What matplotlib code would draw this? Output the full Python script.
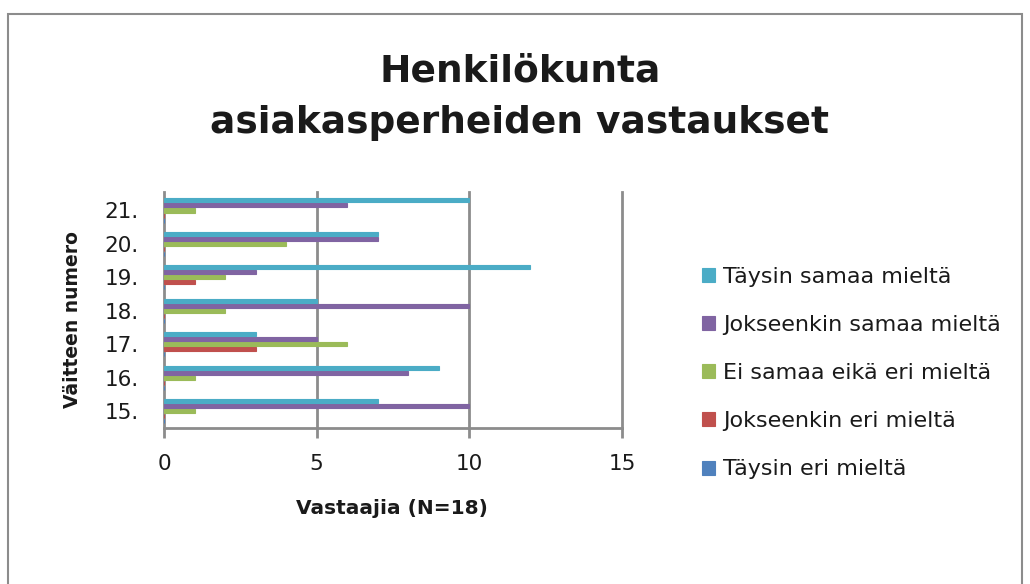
import matplotlib
matplotlib.use('Agg')
import matplotlib.pyplot as plt
import numpy as np
from matplotlib.patches import Rectangle

# väitteet ja vastaukset
categories = ['15.', '16.', '17.', '18.', '19.', '20.', '21.']
series_names = ['Täysin eri mieltä', 'Jokseenkin eri mieltä', 'Ei samaa eikä eri mieltä',
                'Jokseenkin samaa mieltä', 'Täysin samaa mieltä']
taysin_eri = [0, 0, 0, 0, 0, 0, 0]
jokseenkin_eri = [0, 0, 3, 0, 1, 0, 0]
ei_samaa_eika_eri = [1, 1, 6, 2, 2, 4, 1]
jokseenkin_samaa = [10, 8, 5, 10, 3, 7, 6]
taysin_samaa = [7, 9, 3, 5, 12, 7, 10]
colors = ['#4F81BD', '#C0504D', '#9BBB59', '#8064A2', '#4BACC6']

plt.rcParams['font.family'] = ['DejaVu Sans']
txt_col = '#1a1a1a'
grid_col = '#8c8c8c'

fig = plt.figure(figsize=(10.3, 5.84), dpi=100)
# kaavion reunus
fig.patches.append(Rectangle((8 / 1030, -0.05), 1014 / 1030, 1.05 - 14 / 584,
                             transform=fig.transFigure, fill=False,
                             edgecolor=grid_col, linewidth=1.5))

ax = fig.add_axes([164 / 1030, 1 - 428 / 584, 458 / 1030, 236 / 584])

values = [taysin_eri, jokseenkin_eri, ei_samaa_eika_eri, jokseenkin_samaa, taysin_samaa]
y = np.arange(len(categories))
pitch = 0.15
for j, (vals, name, c) in enumerate(zip(values, series_names, colors)):
    off = (j - 2) * pitch
    ax.barh(y + off, vals, height=0.125, color=c, edgecolor=c, linewidth=0.8,
            label=name, zorder=3)

ax.set_xlim(0, 15)
ax.set_ylim(-0.5, 6.55)
ax.set_xticks([0, 5, 10, 15])
ax.set_yticks(y)
ax.set_yticklabels(categories)
ax.tick_params(axis='y', labelsize=15.5, colors=txt_col, length=0, pad=18)
ax.tick_params(axis='x', labelsize=15.5, labelcolor=txt_col, length=7,
               color=grid_col, width=2, direction='out', pad=12)
# pystyviivat, myös oikea reuna kokonaan näkyviin
for xv in [5, 10, 15]:
    ax.axvline(xv, color=grid_col, linewidth=2, zorder=0, clip_on=False)
for s in ['top', 'right']:
    ax.spines[s].set_visible(False)
for s in ['left', 'bottom']:
    ax.spines[s].set_color(grid_col)
    ax.spines[s].set_linewidth(2)

ax.set_xlabel('Vastaajia (N=18)', fontsize=14.5, fontweight='bold', color=txt_col)
ax.xaxis.set_label_coords(0.498, -0.339)
ax.set_ylabel('Väitteen numero', fontsize=13.5, fontweight='bold', color=txt_col)
ax.yaxis.set_label_coords(-0.2, 0.458)
ax.yaxis.label.set_va('center')
ax.xaxis.label.set_va('center')

fig.text(520 / 1030, 1 - 97 / 584, 'Henkilökunta\nasiakasperheiden vastaukset',
         ha='center', va='center', fontsize=27, fontweight='bold',
         linespacing=1.55, color=txt_col)

handles, labels = ax.get_legend_handles_labels()
fig.legend(handles[::-1], labels[::-1], loc='center left',
           bbox_to_anchor=(702 / 1030, 1 - 373 / 584), frameon=False,
           fontsize=16, labelspacing=1.27, handlelength=0.6, handleheight=0.6,
           handletextpad=0.35, borderpad=0, borderaxespad=0, labelcolor=txt_col)

fig.savefig('out.png', dpi=100)
